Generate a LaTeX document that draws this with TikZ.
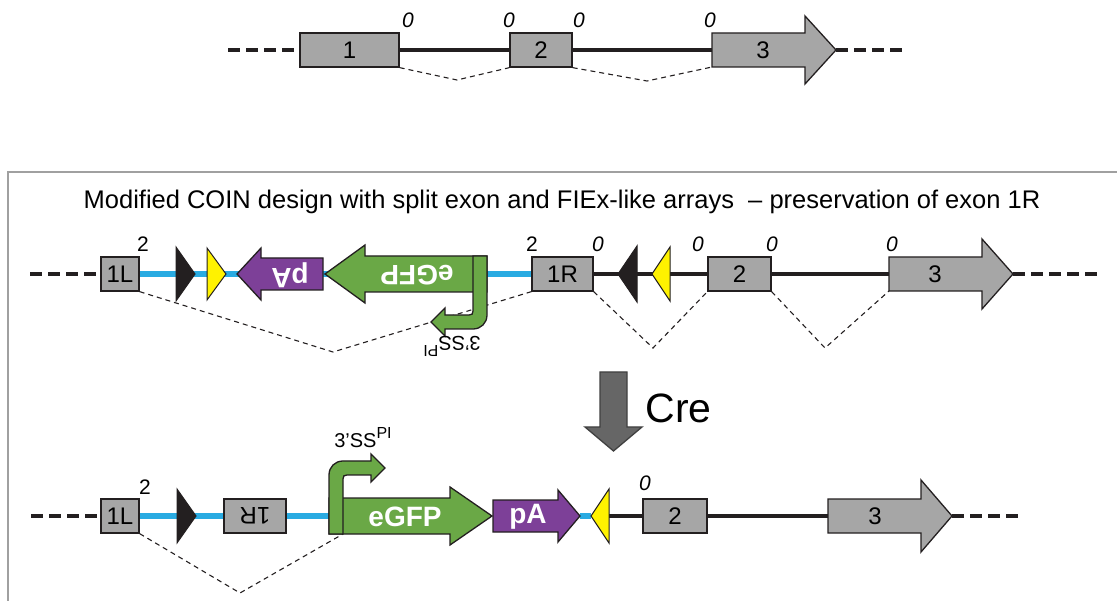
\documentclass[tikz,border=0pt]{standalone}
\usepackage{fontspec}
\setmainfont{Liberation Sans}
\usetikzlibrary{calc}
\definecolor{exgray}{RGB}{166,166,166}
\definecolor{dnablue}{RGB}{41,171,226}
\definecolor{gfpgreen}{RGB}{106,168,70}
\definecolor{papurple}{RGB}{125,64,152}
\definecolor{loxyellow}{RGB}{255,242,0}
\definecolor{edge}{RGB}{35,31,32}
\definecolor{cregray}{RGB}{102,102,102}
\definecolor{creedge}{RGB}{64,64,64}
\definecolor{framegray}{RGB}{160,160,160}
\pgfdeclarelayer{bg}
\pgfsetlayers{bg,main}
% rightward/leftward block arrow: start x, head base x, tip x, y, body half, head half
\newcommand\rarrowpath[6]{(#1,{#4-#5}) -- (#2,{#4-#5}) -- (#2,{#4-#6}) -- (#3,#4) -- (#2,{#4+#6}) -- (#2,{#4+#5}) -- (#1,{#4+#5}) -- cycle}
% triangle: base x, tip x, y, half height
\newcommand\tripath[4]{(#1,{#3-#4}) -- (#2,#3) -- (#1,{#3+#4}) -- cycle}
\newcommand\sspi{3'SS\raisebox{0.45em}{\fontsize{16}{16}\selectfont PI}}
\tikzset{
  exon/.style={draw=edge,fill=exgray,line width=1.3pt,minimum height=34pt,inner sep=0pt,font=\fontsize{24}{24}\selectfont},
  dna/.style={draw=edge,line width=3.5pt},
  blueline/.style={draw=dnablue,line width=5.5pt},
  flank/.style={draw=edge,line width=3.5pt,dash pattern=on 12pt off 6pt},
  splice/.style={draw=edge,line width=1.1pt,dash pattern=on 5pt off 4pt},
  grayarrow/.style={draw=edge,fill=exgray,line width=1.3pt,line join=miter},
  gfp/.style={draw=edge,fill=gfpgreen,line width=1.3pt},
  pa/.style={draw=edge,fill=papurple,line width=1.3pt},
  loxb/.style={draw=edge,fill=edge,line width=1pt},
  loxy/.style={draw=edge,fill=loxyellow,line width=1pt},
  framestyle/.style={draw=framegray,line width=2pt},
  phase/.style={font=\fontsize{21}{21}\selectfont\itshape},
  num/.style={font=\fontsize{21}{21}\selectfont},
  lbl/.style={font=\fontsize{24}{24}\selectfont},
  cassette/.style={text=white,font=\fontsize{28}{28}\selectfont\bfseries},
  ssl/.style={font=\fontsize{20}{20}\selectfont},
  crearrow/.style={draw=creedge,fill=cregray,line width=1.3pt},
  bentss/.pic={\draw[gfp] (0,66) -- (0,7) .. controls (0,-1) and (6,-7) .. (14,-7) -- (42,-7) -- (42,-14) -- (56,0) -- (42,14) -- (42,7) -- (18,7) .. controls (15,7) and (14,8) .. (14,11) -- (14,66) -- cycle;}
}
\begin{document}
\begin{tikzpicture}[x=1pt,y=-1pt]
\useasboundingbox (0,0) rectangle (1117,601);
\draw[framestyle] (8,620) -- (8,172) -- (1130,172);

% ---------------- Row 0 (wild type) ----------------
\node[exon,minimum width=99pt] (r0e1) at (349.5,50) {1};
\node[exon,minimum width=62pt] (r0e2) at (541,50) {2};
\draw[grayarrow] \rarrowpath{712}{805}{836}{50}{17}{34};
\node[lbl] (r0e3) at (763,50) {3};
\coordinate (r0a3) at (712,50);
\coordinate (r0a3s) at (712,67);
\coordinate (r0tip) at (836,50);
\coordinate (r0L) at (228,50);
\coordinate (r0R) at (905,50);
\coordinate (r0v1) at (457,80);
\coordinate (r0v2) at (647,81);
\node[phase] (r0p1) at (408,20) {0};
\node[phase] (r0p2) at (509,20) {0};
\node[phase] (r0p3) at (579,20) {0};
\node[phase] (r0p4) at (710,20) {0};
\begin{pgfonlayer}{bg}
\draw[flank] (r0L) -- (r0e1.west);
\draw[dna] (r0e1.east) -- (r0e2.west);
\draw[dna] (r0e2.east) -- (r0a3);
\draw[flank] (r0tip) -- (r0R);
\draw[splice] (r0e1.south east) -- (r0v1) -- (r0e2.south west);
\draw[splice] (r0e2.south east) -- (r0v2) -- (r0a3s);
\end{pgfonlayer}

% ---------------- Title ----------------
\node[font=\fontsize{25.5}{25.5}\selectfont] (title) at (562,202) {Modified COIN design with split exon and FIEx-like arrays~ -- preservation of exon 1R};

% ---------------- Row 1 (COIN allele) ----------------
\node[exon,minimum width=38pt] (r1L) at (120,274) {1L};
\node[exon,minimum width=61pt] (r1R) at (562.5,274) {1R};
\node[exon,minimum width=63pt] (r1e2) at (739.5,274) {2};
\draw[grayarrow] \rarrowpath{889}{982}{1013}{274}{17}{35};
\node[lbl] (r1e3) at (935,274) {3};
\coordinate (r1a3) at (889,274);
\coordinate (r1a3s) at (889,291);
\coordinate (r1tip) at (1013,274);
\coordinate (r1L0) at (30,274);
\coordinate (r1R0) at (1100,274);
\coordinate (r1v1) at (333,352);
\coordinate (r1v2) at (653,348);
\coordinate (r1v3) at (825,348);
\draw[loxb] \tripath{176}{195}{274}{27};
\draw[loxy] \tripath{207}{226}{274}{26};
\draw[loxb] \tripath{637}{618}{274}{28};
\draw[loxy] \tripath{670}{652}{274}{27};
\draw[pa] \rarrowpath{323}{261}{237}{274}{16}{26};
\node[cassette,rotate=180] (r1pa) at (290,275) {pA};
\draw[gfp] \rarrowpath{487}{365}{325}{274}{18}{29};
\node[cassette,rotate=180] (r1gfp) at (417,275) {eGFP};
\pic[rotate=180] at (487,322) {bentss};
\node[ssl,rotate=180] (r1ss) at (452,346) {\sspi};
\node[num] (r1n1) at (143,244) {2};
\node[num] (r1n2) at (532,244) {2};
\node[phase] (r1p1) at (598,244) {0};
\node[phase] (r1p2) at (698,244) {0};
\node[phase] (r1p3) at (772,244) {0};
\node[phase] (r1p4) at (892,244) {0};
\begin{pgfonlayer}{bg}
\draw[flank] (r1L0) -- (r1L.west);
\draw[blueline] (r1L.east) -- (r1R.west);
\draw[dna] (r1R.east) -- (r1e2.west);
\draw[dna] (r1e2.east) -- (r1a3);
\draw[flank] (r1tip) -- (r1R0);
\draw[splice] (r1L.south east) -- (r1v1) -- (r1R.south west);
\draw[splice] (r1R.south east) -- (r1v2) -- (r1e2.south west);
\draw[splice] (r1e2.south east) -- (r1v3) -- (r1a3s);
\end{pgfonlayer}

% ---------------- Cre ----------------
\draw[crearrow] (600,372) -- (627,372) -- (627,427) -- (642,427) -- (613.5,451) -- (585,427) -- (600,427) -- cycle;
\node[font=\fontsize{41}{41}\selectfont,anchor=west] (cre) at (642,408) {Cre};

% ---------------- Row 2 (after Cre) ----------------
\node[exon,minimum width=38pt] (r2L) at (120,516) {1L};
\node[exon,minimum width=62pt] (r2R) at (255,516) {\rotatebox{180}{1R}};
\node[exon,minimum width=64pt] (r2e2) at (675,516) {2};
\draw[grayarrow] \rarrowpath{828}{921}{952}{516}{17}{36};
\node[lbl] (r2e3) at (875,516) {3};
\coordinate (r2a3) at (828,516);
\coordinate (r2tip) at (952,516);
\coordinate (r2L0) at (31,516);
\coordinate (r2R0) at (1023,516);
\coordinate (r2g) at (329,516);
\coordinate (r2gs) at (343,534);
\coordinate (r2pt) at (580,516);
\coordinate (r2yt) at (591,516);
\coordinate (r2yb) at (609,516);
\coordinate (r2v1) at (240,593);
\draw[loxb] \tripath{177}{196}{516}{27};
\draw[loxy] \tripath{609}{591}{516}{27};
\draw[gfp] \rarrowpath{329}{450}{492}{516}{18}{29};
\node[cassette] (r2gfp) at (405,517) {eGFP};
\pic at (329,468) {bentss};
\node[ssl] (r2ss) at (363,438) {\sspi};
\draw[pa] \rarrowpath{493}{558}{580}{516}{16}{26};
\node[cassette] (r2pa) at (528,517) {pA};
\node[num] (r2n1) at (145,487) {2};
\node[phase] (r2p1) at (645,483) {0};
\begin{pgfonlayer}{bg}
\draw[flank] (r2L0) -- (r2L.west);
\draw[blueline] (r2L.east) -- (r2R.west);
\draw[blueline] (r2R.east) -- (r2g);
\draw[blueline] (r2pt) -- (r2yt);
\draw[dna] (r2yb) -- (r2e2.west);
\draw[dna] (r2e2.east) -- (r2a3);
\draw[flank] (r2tip) -- (r2R0);
\draw[splice] (r2L.south east) -- (r2v1) -- (r2gs);
\end{pgfonlayer}
\end{tikzpicture}
\end{document}
